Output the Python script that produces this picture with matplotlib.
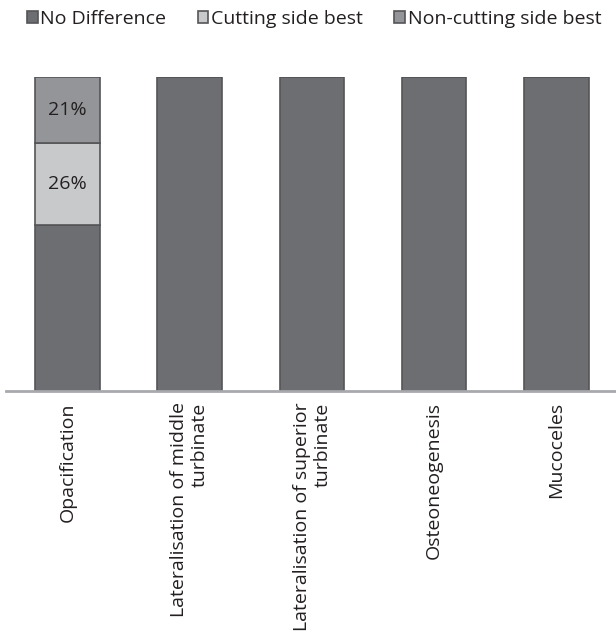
import numpy as np
import matplotlib.pyplot as plt

plt.rcParams['font.family'] = ['Open Sans', 'DejaVu Sans']

categories = ["Opacification", "Lateralisation of middle\nturbinate",
              "Lateralisation of superior\nturbinate", "Osteoneogenesis", "Mucoceles"]
no_diff = [53, 100, 100, 100, 100]
cutting = [26, 0, 0, 0, 0]
non_cutting = [21, 0, 0, 0, 0]
series = ["No Difference", "Cutting side best", "Non-cutting side best"]
colors = ["#6d6e71", "#c8c9cb", "#939598"]

fig = plt.figure(figsize=(6.16, 6.33), dpi=100)
ax = fig.add_axes([0.0097, 0.382, 0.9903, 0.496])

x = np.arange(len(categories))
bottom = np.zeros(len(categories))
bars = []
for vals, name, c in zip([no_diff, cutting, non_cutting], series, colors):
    b = ax.bar(x, vals, 0.53, bottom=bottom, color=c, edgecolor="#555557",
               linewidth=1.2, label=name)
    bars.append(b)
    for xi, v, b0 in zip(x, vals, bottom):
        if 0 < v < 100 and name != "No Difference":
            ax.text(xi, b0 + v / 2, f"{v}%", ha="center", va="center",
                    fontsize=14, color="#231f20")
    bottom += np.array(vals)

ax.set_xlim(-0.505, 4.49)
ax.set_ylim(0, 100)
ax.set_yticks([])
for s in ["top", "right", "left"]:
    ax.spines[s].set_visible(False)
ax.spines["bottom"].set_color("#a7a9ac")
ax.spines["bottom"].set_linewidth(2)
ax.set_xticks(x)
ax.set_xticklabels(categories, rotation=90, ha="center", va="top",
                   multialignment="right", fontsize=14, color="#231f20")
ax.tick_params(axis="x", length=0, pad=8)

fig.legend(handles=bars, labels=series, loc="upper center", ncol=3,
           bbox_to_anchor=(0.51, 1.012), frameon=False, fontsize=14,
           handlelength=0.55, handleheight=0.55, handletextpad=0.15,
           columnspacing=1.6, labelcolor="#231f20")

fig.savefig("out.png", dpi=100)
